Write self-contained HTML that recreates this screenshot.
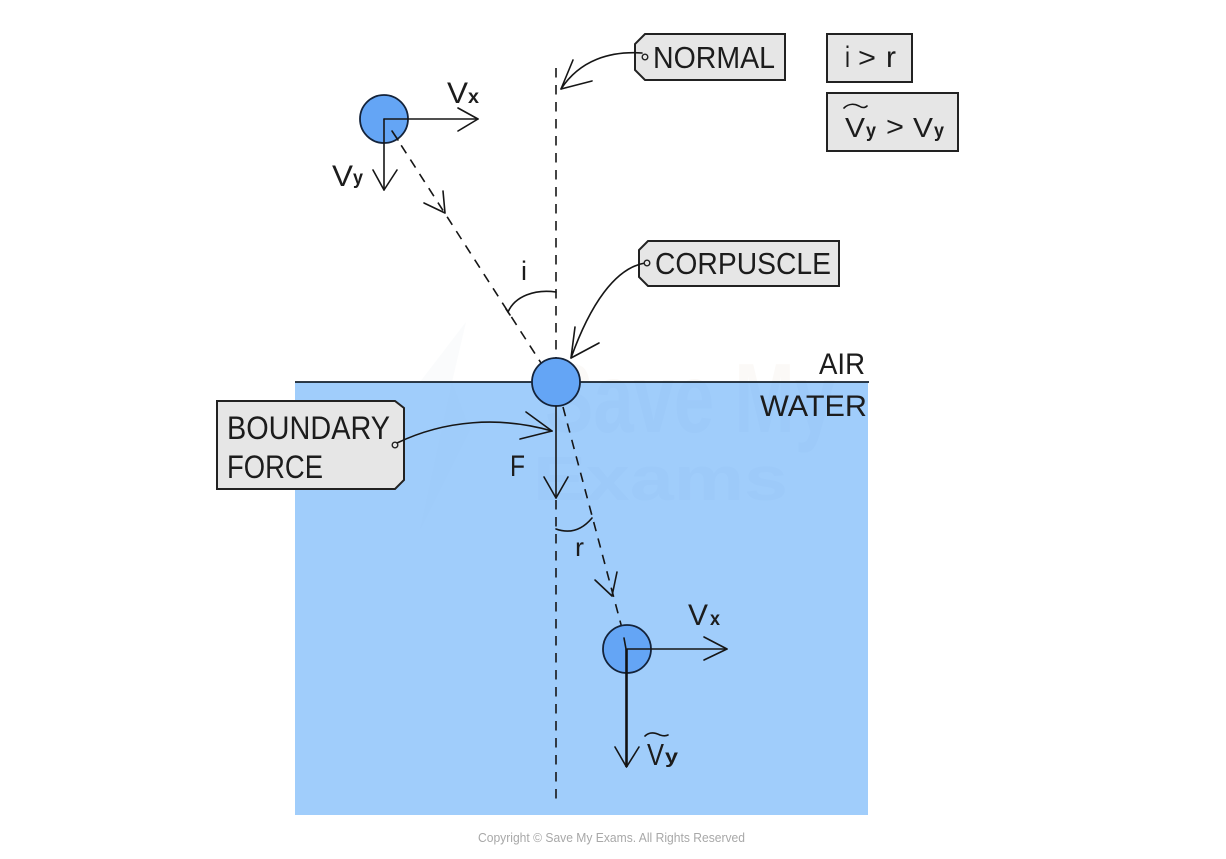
<!DOCTYPE html>
<html><head><meta charset="utf-8"><style>
html,body{margin:0;padding:0;background:#fff;width:1226px;height:859px;overflow:hidden}
svg{display:block;filter:blur(.3px)}
text{font-family:"Liberation Sans",sans-serif;fill:#1c1c1c}
.l{fill:none;stroke:#161616;stroke-width:1.6;stroke-linecap:round;stroke-linejoin:round}
.d{fill:none;stroke:#161616;stroke-width:1.6;stroke-dasharray:9.5 7.5}
.b{fill:#e6e6e6;stroke:#222;stroke-width:2}
.c{fill:#64a5f5;stroke:#14233a;stroke-width:1.8}
.s{fill:#1c1c1c;font-weight:bold}
</style></head><body>
<svg width="1226" height="859" viewBox="0 0 1226 859" xmlns="http://www.w3.org/2000/svg">
<defs>
<clipPath id="air"><rect x="0" y="0" width="1226" height="382"/></clipPath>
<clipPath id="water"><rect x="295" y="382" width="573" height="433"/></clipPath>
</defs>
<rect width="1226" height="859" fill="#fff"/>
<rect x="295" y="382" width="573" height="433" fill="#a0cdfb"/>

<!-- watermark -->
<polygon points="466,322 420,382 452,382" fill="#fafbfc"/>
<polygon points="452,382 420,530 470,430" fill="#9fccfa" clip-path="url(#water)"/>
<g clip-path="url(#air)"><text x="545" y="432" font-size="98" font-weight="bold" style="fill:#fbf9f7" textLength="290" lengthAdjust="spacingAndGlyphs">Save My</text></g>
<g clip-path="url(#water)"><text x="545" y="432" font-size="98" font-weight="bold" style="fill:#9dcaf9" textLength="290" lengthAdjust="spacingAndGlyphs">Save My</text>
<text x="533" y="500" font-size="62" font-weight="bold" style="fill:#9dcaf9" textLength="255" lengthAdjust="spacingAndGlyphs">Exams</text></g>

<line x1="295" y1="382" x2="869" y2="382" stroke="#14202c" stroke-width="1.7"/>

<!-- normal -->
<line class="d" x1="556" y1="68" x2="556" y2="360"/>
<line class="d" x1="556" y1="500" x2="556" y2="806"/>

<!-- incident ray -->
<line class="d" x1="392" y1="131" x2="541" y2="363"/>
<polyline class="l" points="424,203 445,213 443,191"/>
<!-- refracted ray -->
<line class="d" x1="563" y1="407" x2="623" y2="632"/>
<polyline class="l" points="595,580 612,596 617,572"/>

<!-- circles -->
<circle class="c" cx="384" cy="119" r="24"/>
<circle class="c" cx="556" cy="382" r="24"/>
<circle class="c" cx="627" cy="649" r="24"/>

<!-- top vectors -->
<line class="l" x1="384" y1="119" x2="478" y2="119"/>
<polyline class="l" points="458,108 478,119 458,131"/>
<line class="l" x1="384" y1="119" x2="384" y2="190"/>
<polyline class="l" points="373,170 384,190 397,170"/>
<line class="l" x1="392" y1="131" x2="398" y2="140"/>

<!-- force -->
<line class="l" x1="556" y1="406" x2="556" y2="498"/>
<polyline class="l" points="544,477 556,498 568,477"/>

<!-- bottom vectors -->
<line class="l" x1="627" y1="649" x2="727" y2="649"/>
<polyline class="l" points="704,637 727,649 704,660"/>
<line x1="626.5" y1="649" x2="626.5" y2="767" stroke="#111" stroke-width="2.6"/>
<polyline class="l" points="615,747 626.5,767 639,747"/>
<line class="l" x1="624" y1="638" x2="626" y2="649"/>

<!-- angle arcs -->
<path class="l" d="M556,292 C535,289 515,296 508,312"/>
<path class="l" d="M556,529 C570,534 582,530 592,518"/>
<line class="l" x1="506" y1="309" x2="510" y2="315"/>

<!-- tags -->
<path class="b" d="M645,34 H785 V80 H645 L635,70 V44 Z"/>
<path class="b" d="M648,241 H839 V286 H648 L639,277 V250 Z"/>
<path class="b" d="M217,401 H395 L404,408 V480 L395,489 H217 Z"/>
<rect class="b" x="827" y="34" width="85" height="48"/>
<rect class="b" x="827" y="93" width="131" height="58"/>

<!-- connectors -->
<path class="l" d="M642,53 C610,51 580,60 561,89"/>
<polyline class="l" points="573,60 561,89 592,81"/>
<circle cx="645" cy="57" r="2.8" fill="#e6e6e6" stroke="#222" stroke-width="1.4"/>

<path class="l" d="M645,263 C615,268 590,305 571,358"/>
<polyline class="l" points="575,327 571,358 599,343"/>
<circle cx="647" cy="263" r="2.8" fill="#e6e6e6" stroke="#222" stroke-width="1.4"/>

<path class="l" d="M397,443 C445,420 500,416 552,431"/>
<polyline class="l" points="526,412 552,431 520,439"/>
<circle cx="395" cy="445" r="2.8" fill="#e6e6e6" stroke="#222" stroke-width="1.4"/>

<!-- labels -->
<text x="653" y="68" font-size="31" textLength="122" lengthAdjust="spacingAndGlyphs">NORMAL</text>
<text x="655" y="274" font-size="31" textLength="176" lengthAdjust="spacingAndGlyphs">CORPUSCLE</text>
<text x="227" y="439" font-size="32" textLength="163" lengthAdjust="spacingAndGlyphs">BOUNDARY</text>
<text x="227" y="478" font-size="32" textLength="96" lengthAdjust="spacingAndGlyphs">FORCE</text>
<text x="819" y="374" font-size="30" textLength="46" lengthAdjust="spacingAndGlyphs">AIR</text>
<text x="760" y="416" font-size="30" textLength="107" lengthAdjust="spacingAndGlyphs">WATER</text>
<text x="510" y="476" font-size="30" textLength="15" lengthAdjust="spacingAndGlyphs">F</text>
<text x="521" y="280" font-size="27" textLength="6" lengthAdjust="spacingAndGlyphs">i</text>
<text x="575" y="556" font-size="26" textLength="9" lengthAdjust="spacingAndGlyphs">r</text>

<text x="447" y="103" font-size="30" textLength="21" lengthAdjust="spacingAndGlyphs">V</text>
<text x="468" y="103" font-size="19" class="s" textLength="11" lengthAdjust="spacingAndGlyphs">x</text>
<text x="332" y="186" font-size="30" textLength="21" lengthAdjust="spacingAndGlyphs">V</text>
<text x="353" y="184" font-size="19" class="s" textLength="10" lengthAdjust="spacingAndGlyphs">y</text>

<text x="688" y="625" font-size="30" textLength="20" lengthAdjust="spacingAndGlyphs">V</text>
<text x="710" y="625" font-size="19" class="s" textLength="10" lengthAdjust="spacingAndGlyphs">x</text>
<text x="647" y="765" font-size="31" textLength="17" lengthAdjust="spacingAndGlyphs">V</text>
<text x="665" y="763" font-size="19" class="s" textLength="13" lengthAdjust="spacingAndGlyphs">y</text>
<path class="l" d="M645,736 C650,731 656,733 660,735 C663,736 666,736 668,735"/>

<text x="845" y="67" font-size="30" textLength="5" lengthAdjust="spacingAndGlyphs">i</text>
<text x="858" y="67" font-size="28" textLength="18" lengthAdjust="spacingAndGlyphs">&gt;</text>
<text x="886" y="67" font-size="30" textLength="10" lengthAdjust="spacingAndGlyphs">r</text>

<text x="845" y="137" font-size="28" textLength="20" lengthAdjust="spacingAndGlyphs">V</text>
<text x="866" y="137" font-size="19" class="s" textLength="10" lengthAdjust="spacingAndGlyphs">y</text>
<path class="l" d="M844,108 C849,103 855,104 859,106 C862,108 865,108 867,106"/>
<text x="886" y="136" font-size="28" textLength="18" lengthAdjust="spacingAndGlyphs">&gt;</text>
<text x="913" y="137" font-size="28" textLength="20" lengthAdjust="spacingAndGlyphs">V</text>
<text x="934" y="137" font-size="19" class="s" textLength="10" lengthAdjust="spacingAndGlyphs">y</text>

<text x="478" y="842" font-size="12.5" style="fill:#a8a8a8" textLength="267" lengthAdjust="spacingAndGlyphs">Copyright © Save My Exams. All Rights Reserved</text>
</svg>
</body></html>
